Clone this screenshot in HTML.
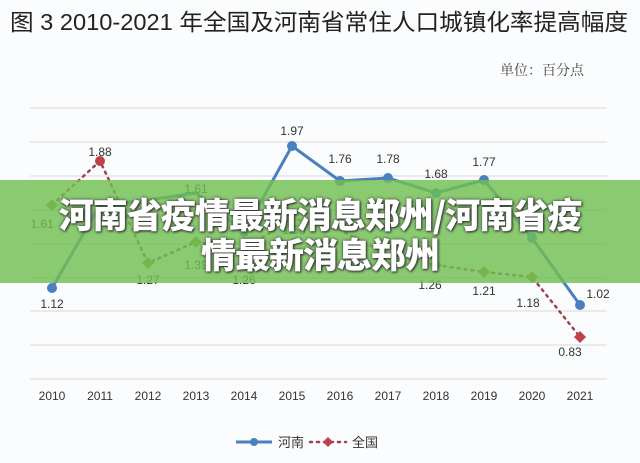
<!DOCTYPE html><html><head><meta charset="utf-8"><style>
body{margin:0;width:640px;height:463px;background:#fbfcfd;overflow:hidden;position:relative;font-family:"Liberation Sans","Noto Sans CJK SC",sans-serif}
.ban{position:absolute;left:0;top:180px;width:640px;height:103px;background:rgba(112,190,82,0.82);color:#fff;font-weight:900;font-size:35px;text-align:center;line-height:40px;padding-top:14px;box-sizing:border-box;text-shadow:0 0 3px #333,1px 1px 2px #333;font-family:"Noto Sans CJK SC",sans-serif;letter-spacing:-1px}
</style></head><body>
<svg width="640" height="463" style="position:absolute;left:0;top:0" font-family="Liberation Sans, Noto Sans CJK SC, sans-serif">
<text x="10" y="30" font-size="23" fill="#222" textLength="618" lengthAdjust="spacingAndGlyphs" font-family="Liberation Sans, Noto Sans CJK SC, sans-serif">图 3   2010-2021 年全国及河南省常住人口城镇化率提高幅度</text>
<text x="500" y="75" font-size="14" fill="#444" font-family="Noto Serif CJK SC, serif">单位：百分点</text>
<g stroke="#d8d8d8" stroke-width="1">
<line x1="30" x2="607" y1="108" y2="108"/><line x1="30" x2="607" y1="142" y2="142"/><line x1="30" x2="607" y1="176" y2="176"/><line x1="30" x2="607" y1="210" y2="210"/><line x1="30" x2="607" y1="244" y2="244"/><line x1="30" x2="607" y1="278" y2="278"/><line x1="30" x2="607" y1="311" y2="311"/><line x1="30" x2="607" y1="345" y2="345"/><line x1="30" x2="607" y1="379" y2="379"/>
</g>
<polyline fill="none" stroke="#a04050" stroke-width="2.5" stroke-dasharray="2 5" stroke-linecap="round" points="52,205 100,161 148,263 196,242 244,250 292,218 340,230 388,255 436,265 484,272 532,277 580,337"/>
<g fill="#8a8a3a"><path d="M52 199l6 6-6 6-6-6z"/><path d="M148 257l6 6-6 6-6-6z"/><path d="M196 236l6 6-6 6-6-6z"/><path d="M484 266l6 6-6 6-6-6z"/><path d="M532 271l6 6-6 6-6-6z"/><path d="M436 259l6 6-6 6-6-6z"/></g>
<g fill="#c0404a"><circle cx="100" cy="161" r="5"/><path d="M580 331l6 6-6 6-6-6z"/></g>
<polyline fill="none" stroke="#4a7fc0" stroke-width="3" points="52,288 100,205 148,200 196,193 244,232 292,146 340,181 388,178 436,193 484,180 532,238 580,305"/>
<g fill="#4a7fc0"><circle cx="52" cy="288" r="5"/><circle cx="292" cy="146" r="5"/><circle cx="340" cy="181" r="5"/><circle cx="388" cy="178" r="5"/><circle cx="436" cy="193" r="5"/><circle cx="484" cy="180" r="5"/><circle cx="532" cy="238" r="5"/><circle cx="580" cy="305" r="5"/><circle cx="244" cy="232" r="5"/></g>
<g font-size="12" fill="#333" text-anchor="middle">
<text x="52" y="308">1.12</text><text x="100" y="156">1.88</text><text x="148" y="284">1.27</text><text x="196" y="269">1.39</text><text x="244" y="284">1.26</text><text x="292" y="135">1.97</text><text x="340" y="163">1.76</text><text x="388" y="163">1.78</text><text x="436" y="178">1.68</text><text x="484" y="166">1.77</text><text x="430" y="289">1.26</text><text x="484" y="295">1.21</text><text x="528" y="307">1.18</text><text x="598" y="298">1.02</text><text x="570" y="356">0.83</text><text x="42" y="228">1.61</text><text x="196" y="193">1.61</text><text x="294" y="234">1.58</text>
</g>
<g font-size="12" fill="#333" text-anchor="middle">
<text x="52" y="400">2010</text><text x="100" y="400">2011</text><text x="148" y="400">2012</text><text x="196" y="400">2013</text><text x="244" y="400">2014</text><text x="292" y="400">2015</text><text x="340" y="400">2016</text><text x="388" y="400">2017</text><text x="436" y="400">2018</text><text x="484" y="400">2019</text><text x="532" y="400">2020</text><text x="580" y="400">2021</text>
</g>
<line x1="236" x2="272" y1="442" y2="442" stroke="#4a7fc0" stroke-width="3"/><circle cx="254" cy="442" r="4" fill="#4a7fc0"/>
<text x="278" y="447" font-size="13" fill="#333">河南</text>
<line x1="310" x2="346" y1="442" y2="442" stroke="#a04050" stroke-width="2.5" stroke-dasharray="2 5" stroke-linecap="round"/><path d="M328 437l5 5-5 5-5-5z" fill="#c0404a"/>
<text x="352" y="447" font-size="13" fill="#333">全国</text>
</svg>
<div class="ban">河南省疫情最新消息郑州/河南省疫<br>情最新消息郑州</div>
</body></html>
